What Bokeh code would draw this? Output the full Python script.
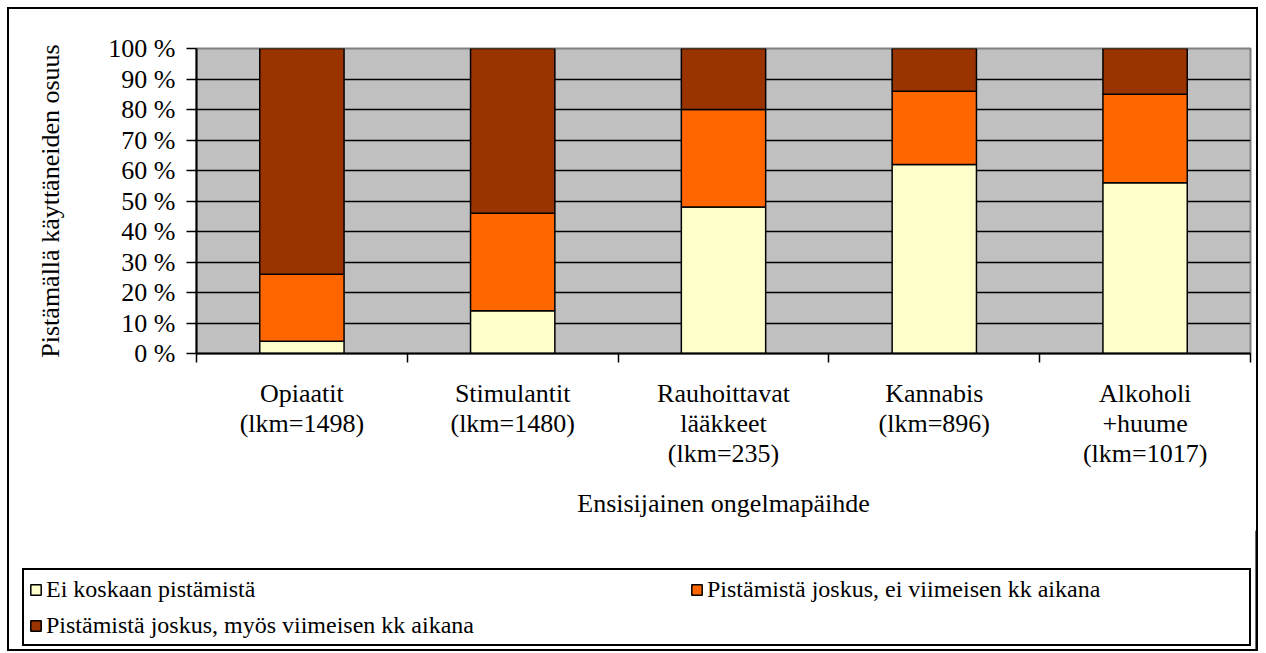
from bokeh.plotting import figure
from bokeh.layouts import column
from bokeh.models import (FactorRange, Range1d, LinearAxis, CategoricalAxis, FixedTicker,
                          PrintfTickFormatter, Legend, LegendItem,
                          ColumnDataSource, Grid)
from bokeh.embed import file_html
from bokeh.resources import INLINE

# ---- data ----
categories = ["Opiaatit\n(lkm=1498)", "Stimulantit\n(lkm=1480)",
              "Rauhoittavat\nlääkkeet\n(lkm=235)", "Kannabis\n(lkm=896)",
              "Alkoholi\n+huume\n(lkm=1017)"]
series_labels = ["Ei koskaan pistämistä",
                 "Pistämistä joskus, ei viimeisen kk aikana",
                 "Pistämistä joskus, myös viimeisen kk aikana"]
never = [4, 14, 48, 62, 56]
past = [22, 32, 32, 24, 29]
recent = [74, 54, 20, 14, 15]
colors = ["#FFFFCC", "#FF6600", "#993300"]
y_ticks = list(range(0, 101, 10))
y_title = "Pistämällä käyttäneiden osuus"
x_title = "Ensisijainen ongelmapäihde"

FONT = "Liberation Serif"
FS = "26px"

source = ColumnDataSource(dict(cat=categories, never=never, past=past, recent=recent))

p = figure(x_range=FactorRange(*categories), y_range=Range1d(0, 100),
           width=1247, height=521, output_backend="svg", toolbar_location=None,
           x_axis_location=None, y_axis_location=None,
           min_border_left=187, min_border_right=6, min_border_top=39, min_border_bottom=177)
p.frame_align = False
p.background_fill_color = "#C0C0C0"
p.border_fill_color = "white"
p.outline_line_color = "#808080"
p.outline_line_width = 2

grid = Grid(dimension=1, ticker=FixedTicker(ticks=y_ticks[:-1]),
            grid_line_color="black", grid_line_width=1.5)
p.add_layout(grid)

renderers = p.vbar_stack(["never", "past", "recent"], x="cat", width=0.4, source=source,
                         fill_color=colors, line_color="black", line_width=1.5)

# y axis
yaxis = LinearAxis(ticker=FixedTicker(ticks=y_ticks),
                   formatter=PrintfTickFormatter(format="%d %%"),
                   major_tick_out=10, major_tick_in=0, minor_tick_line_color=None,
                   axis_line_width=2, axis_line_color="black",
                   major_tick_line_width=1.5, major_tick_line_color="black",
                   major_label_text_font=FONT, major_label_text_font_size=FS,
                   major_label_text_color="black", major_label_standoff=11,
                   axis_label=y_title, axis_label_text_font=FONT,
                   axis_label_text_font_size=FS, axis_label_text_font_style="normal",
                   axis_label_text_color="black", axis_label_standoff=40)
p.add_layout(yaxis, "left")

# x axis: ticks at category boundaries (synthetic coordinates of the factor range)
bticks = list(range(len(categories) + 1))
xb = LinearAxis(ticker=FixedTicker(ticks=bticks),
                major_tick_out=9, major_tick_in=0, minor_tick_line_color=None,
                axis_line_width=2, axis_line_color="black",
                major_tick_line_width=1.5, major_tick_line_color="black",
                major_label_overrides={t: "" for t in bticks},
                major_label_text_font_size="0px", major_label_standoff=0)
p.add_layout(xb, "below")

# x axis: category labels
xc = CategoricalAxis(major_tick_line_color=None, major_tick_out=0, major_tick_in=0,
                     axis_line_color=None,
                     major_label_text_font=FONT, major_label_text_font_size=FS,
                     major_label_text_line_height=1.05,
                     major_label_text_color="black", major_label_standoff=16,
                     major_label_orientation="horizontal",
                     axis_label=x_title, axis_label_text_font=FONT,
                     axis_label_text_font_size=FS, axis_label_text_font_style="normal",
                     axis_label_text_color="black", axis_label_standoff=18)
p.add_layout(xc, "below")

# ---- legend area (second figure, frame = whole area) ----
lg = figure(width=1247, height=119, output_backend="svg", toolbar_location=None,
            x_range=Range1d(0, 1), y_range=Range1d(0, 1),
            x_axis_location=None, y_axis_location=None,
            min_border_left=0, min_border_right=0, min_border_top=0, min_border_bottom=0)
lg.frame_align = False
lg.xgrid.visible = False
lg.ygrid.visible = False
lg.outline_line_color = None
lg.background_fill_color = "white"
lg.border_fill_color = "white"

# proxy glyphs for the legend swatches (their single point lies outside the view)
proxy_src = ColumnDataSource(dict(x=[5], top=[5]))
proxies = [lg.vbar(x="x", top="top", width=0.1, source=proxy_src, fill_color=c,
                   line_color="black", line_width=1.5) for c in colors]

common = dict(margin=0, spacing=8, label_height=28, padding=5,
              glyph_width=13, glyph_height=13, label_standoff=4,
              label_text_font=FONT, label_text_font_size="24px",
              label_text_color="black")
leg1 = Legend(items=[LegendItem(label=series_labels[0], renderers=[proxies[0]]),
                     LegendItem(label=series_labels[2], renderers=[proxies[2]])],
              location=(13, 3), orientation="vertical", label_width=1198,
              border_line_color="black", border_line_width=2, border_line_alpha=1,
              background_fill_color="white", background_fill_alpha=1, **common)
leg2 = Legend(items=[LegendItem(label=series_labels[1], renderers=[proxies[1]])],
              location=(681, 46), orientation="vertical",
              border_line_color=None, background_fill_alpha=0, **common)
lg.add_layout(leg1)
lg.add_layout(leg2)

layout = column(p, lg, spacing=0,
                styles={"border": "2px solid black", "margin-left": "7px", "margin-top": "7px"})

open("out.html", "w").write(file_html(layout, INLINE))
